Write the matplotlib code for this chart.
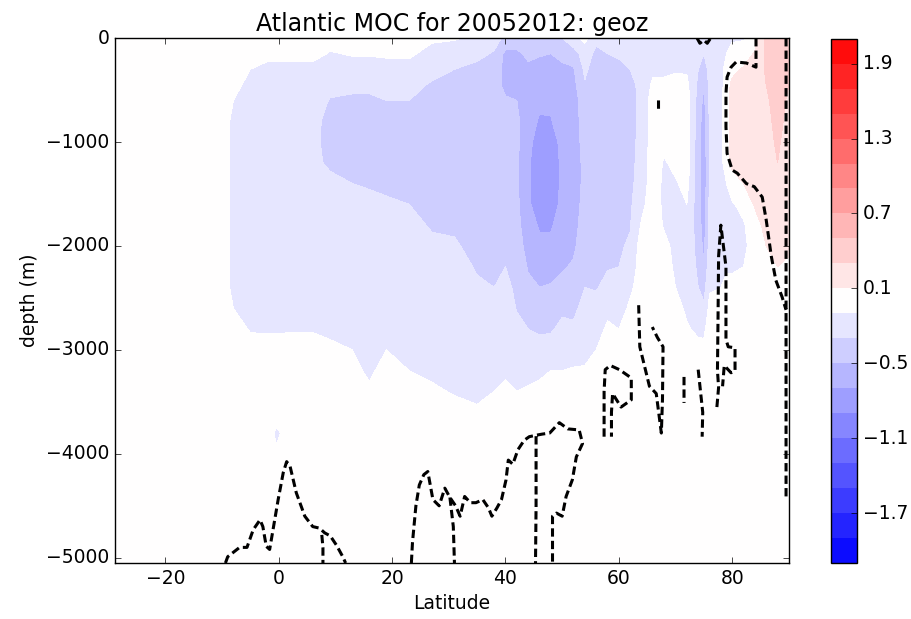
import numpy as np
import matplotlib
matplotlib.use("Agg")
import matplotlib.pyplot as plt

# grid nodes (latitude columns, depth rows)
lat_nodes = [-29, -10, -8, -5, -2, -0.4, 2, 6, 9, 13, 16, 19, 23, 27, 31, 35, 38, 40, 42,
             44, 46, 48, 50, 52, 54, 56, 58, 60, 62, 64, 66, 68, 70, 72, 74, 75, 76,
             78, 79, 80, 82, 84, 86, 88, 90]
depth_nodes = [0, -150, -300, -450, -600, -800, -1000, -1200, -1400, -1600, -1800,
               -2000, -2200, -2400, -2600, -2800, -3000, -3200, -3400, -3600, -3800,
               -4200, -5050]

# overturning (Sv) per latitude column, top to bottom
moc_columns = [
    [0, 0, 0, 0, 0, 0, 0, 0, 0, 0, 0, 0, 0, 0, 0, 0, 0, 0, 0, 0, 0, 0, 0],
    [0, 0, 0, 0, 0, 0, 0, 0, 0, 0, 0, 0, 0, 0, 0, 0, 0, 0, 0, 0, 0, 0, 0],
    [0, 0, 0, 0, -.10, -.15, -.15, -.15, -.15, -.15, -.15, -.15, -.15, -.15, -.10, 0, 0, 0, 0, 0, 0, 0, 0],
    [0, 0, -.10, -.20, -.20, -.20, -.20, -.20, -.20, -.20, -.20, -.20, -.20, -.20, -.20, -.12, 0, 0, 0, 0, 0, 0, 0],
    [0, 0, -.20, -.20, -.20, -.20, -.20, -.20, -.20, -.20, -.20, -.20, -.20, -.20, -.20, -.13, 0, 0, 0, 0, 0, 0, 0],
    [0, 0, -.20, -.20, -.20, -.20, -.20, -.20, -.20, -.20, -.20, -.20, -.20, -.20, -.20, -.13, 0, 0, 0, 0, -.14, 0, 0],
    [0, 0, -.20, -.20, -.20, -.20, -.20, -.20, -.20, -.20, -.20, -.20, -.20, -.20, -.20, -.12, 0, 0, 0, 0, 0, 0, 0],
    [0, 0, -.20, -.20, -.20, -.22, -.24, -.24, -.22, -.20, -.20, -.20, -.20, -.20, -.20, -.12, 0, 0, 0, 0, 0, 0, 0],
    [0, -.12, -.20, -.25, -.31, -.38, -.38, -.34, -.24, -.20, -.20, -.20, -.20, -.20, -.20, -.15, -.05, 0, 0, 0, 0, 0, 0],
    [0, -.08, -.20, -.26, -.33, -.40, -.40, -.38, -.30, -.24, -.20, -.20, -.20, -.20, -.20, -.20, -.10, -.03, 0, 0, 0, 0, 0],
    [0, -.08, -.20, -.26, -.33, -.40, -.40, -.40, -.32, -.25, -.20, -.20, -.20, -.20, -.20, -.20, -.20, -.15, -.05, 0, 0, 0, 0],
    [0, -.06, -.20, -.24, -.30, -.40, -.40, -.40, -.36, -.26, -.20, -.20, -.20, -.20, -.20, -.20, -.10, 0, 0, 0, 0, 0, 0],
    [0, -.05, -.20, -.24, -.30, -.40, -.42, -.42, -.40, -.30, -.24, -.20, -.20, -.20, -.20, -.20, -.20, -.10, 0, 0, 0, 0, 0],
    [-.05, -.20, -.24, -.32, -.40, -.42, -.44, -.44, -.42, -.40, -.32, -.26, -.22, -.20, -.20, -.20, -.20, -.15, -.06, 0, 0, 0, 0],
    [-.08, -.22, -.30, -.38, -.42, -.44, -.45, -.45, -.44, -.42, -.34, -.27, -.22, -.20, -.20, -.20, -.20, -.20, -.12, -.02, 0, 0, 0],
    [-.15, -.25, -.35, -.40, -.42, -.44, -.45, -.46, -.46, -.45, -.42, -.38, -.32, -.27, -.22, -.20, -.20, -.20, -.15, -.07, 0, 0, 0],
    [-.22, -.32, -.40, -.42, -.44, -.45, -.46, -.47, -.48, -.47, -.45, -.42, -.36, -.30, -.24, -.20, -.20, -.20, -.10, -.04, 0, 0, 0],
    [-.35, -.55, -.56, -.55, -.48, -.45, -.45, -.46, -.46, -.45, -.42, -.36, -.30, -.25, -.20, -.20, -.20, -.14, -.05, 0, 0, 0, 0],
    [-.35, -.55, -.56, -.55, -.50, -.46, -.46, -.47, -.47, -.46, -.44, -.40, -.36, -.34, -.31, -.25, -.20, -.16, -.10, -.04, 0, 0, 0],
    [-.30, -.45, -.55, -.58, -.60, -.62, -.64, -.66, -.66, -.65, -.62, -.58, -.52, -.45, -.38, -.30, -.24, -.15, -.08, 0, 0, 0, 0],
    [-.35, -.48, -.58, -.62, -.66, -.72, -.80, -.86, -.88, -.85, -.72, -.66, -.60, -.50, -.42, -.32, -.25, -.14, -.05, 0, 0, 0, 0],
    [-.35, -.50, -.60, -.64, -.67, -.71, -.80, -.85, -.85, -.82, -.72, -.66, -.58, -.48, -.40, -.32, -.22, -.10, 0, 0, 0, 0, 0],
    [-.30, -.45, -.54, -.58, -.60, -.62, -.64, -.65, -.65, -.64, -.62, -.58, -.52, -.44, -.33, -.26, -.20, -.10, 0, 0, 0, 0, 0],
    [-.15, -.40, -.52, -.56, -.58, -.58, -.58, -.60, -.60, -.58, -.56, -.53, -.48, -.40, -.34, -.27, -.20, -.08, 0, 0, 0, 0, 0],
    [-.05, -.20, -.26, -.32, -.40, -.42, -.44, -.45, -.45, -.44, -.42, -.40, -.36, -.30, -.24, -.20, -.16, -.08, 0, 0, 0, 0, 0],
    [-.25, -.35, -.40, -.42, -.42, -.42, -.42, -.42, -.42, -.42, -.40, -.38, -.35, -.31, -.25, -.20, -.10, 0, 0, 0, 0, 0, 0],
    [-.20, -.30, -.36, -.40, -.40, -.40, -.40, -.40, -.40, -.38, -.36, -.34, -.31, -.26, -.16, -.06, 0, 0, 0, 0, 0, 0, 0],
    [-.20, -.28, -.34, -.36, -.38, -.38, -.38, -.38, -.38, -.36, -.34, -.32, -.30, -.28, -.20, -.10, -.02, 0, 0, 0, 0, 0, 0],
    [-.18, -.25, -.30, -.34, -.36, -.36, -.36, -.36, -.35, -.33, -.31, -.28, -.22, -.14, -.06, 0, 0, 0, 0, 0, 0, 0, 0],
    [-.20, -.22, -.24, -.26, -.26, -.26, -.24, -.22, -.20, -.15, -.08, 0, 0, 0, 0, 0, 0, 0, 0, 0, 0, 0, 0],
    [-.20, -.20, -.15, -.06, 0, 0, 0, 0, 0, 0, 0, 0, 0, 0, 0, 0, 0, 0, 0, 0, 0, 0, 0],
    [-.20, -.20, -.14, -.06, 0, 0, -.05, -.12, -.14, -.14, -.12, -.05, 0, 0, 0, 0, 0, 0, 0, 0, 0, 0, 0],
    [-.20, -.18, -.12, -.04, 0, 0, 0, -.05, -.12, -.15, -.15, -.15, -.14, -.10, -.04, 0, 0, 0, 0, 0, 0, 0, 0],
    [-.20, -.18, -.12, -.06, 0, 0, 0, 0, -.04, -.10, -.14, -.15, -.15, -.15, -.13, -.08, 0, 0, 0, 0, 0, 0, 0],
    [-.15, -.25, -.30, -.34, -.38, -.40, -.42, -.42, -.42, -.42, -.40, -.38, -.34, -.30, -.22, -.14, -.04, 0, 0, 0, 0, 0, 0],
    [-.20, -.30, -.40, -.48, -.55, -.60, -.62, -.64, -.64, -.62, -.60, -.55, -.48, -.38, -.26, -.14, -.05, 0, 0, 0, 0, 0, 0],
    [-.20, -.22, -.24, -.25, -.26, -.28, -.28, -.28, -.28, -.26, -.24, -.22, -.18, -.12, -.05, 0, 0, 0, 0, 0, 0, 0, 0],
    [-.15, -.18, -.18, -.18, -.18, -.18, -.18, -.18, -.18, -.18, -.18, -.16, -.14, -.10, -.04, 0, 0, 0, 0, 0, 0, 0, 0],
    [-.12, -.10, 0, .03, .04, .05, .05, .04, -.10, -.15, -.15, -.15, -.12, -.06, 0, 0, 0, 0, 0, 0, 0, 0, 0],
    [-.12, -.05, .05, .14, .16, .16, .16, .14, .02, -.12, -.14, -.14, -.12, -.06, 0, 0, 0, 0, 0, 0, 0, 0, 0],
    [-.12, 0, .12, .17, .18, .18, .18, .17, .10, -.04, -.12, -.12, -.10, -.05, 0, 0, 0, 0, 0, 0, 0, 0, 0],
    [0, .12, .20, .22, .22, .22, .22, .22, .20, .12, .02, -.06, -.06, -.04, 0, 0, 0, 0, 0, 0, 0, 0, 0],
    [.36, .34, .32, .30, .28, .26, .25, .24, .22, .20, .16, .10, .05, 0, 0, 0, 0, 0, 0, 0, 0, 0, 0],
    [.42, .40, .38, .36, .35, .34, .32, .30, .27, .24, .20, .15, .10, .05, 0, 0, 0, 0, 0, 0, 0, 0, 0],
    [.36, .34, .32, .30, .28, .26, .24, .22, .20, .18, .16, .12, .08, .03, 0, 0, 0, 0, 0, 0, 0, 0, 0],
]

# zero isoline (dashed), pieces split by nan
nan = np.nan
zero_lat = [
    -9.4, -9.0, -6.9, -5.6, -4.5, -3.3, -2.8, -2.2, -1.6, -1.0, -0.1, 0.8, 1.4, 2.0, 3.1,
    4.6, 6.0, 7.2, 8.1, 9.1, 10.2, 11.3, 11.8, nan,
    7.6, 7.8, 7.8, nan,
    23.4, 23.6, 24.2, 24.8, 25.6, 26.3, 27.2, 28.3, 29.3, 30.2, 31.2, 32.0, 32.8, 33.8,
    34.8, 36.0, 37.0, 37.6, 38.5, 39.3, 40.1, 40.5, 41.3, 42.2, 43.3, 44.2, 45.5, 46.5,
    47.8, 49.5, 51.0, 53.0, 53.6, 52.5, 51.8, 50.7, 50.0, 49.0, 48.3, 48.3, nan,
    30.2, 30.8, 31.0, nan,
    45.4, 45.4, 45.3, nan,
    57.4, 57.4, 57.6, 58.5, 60.1, 62.2, 62.2, 60.4, 58.9, 58.7, 58.7, nan,
    63.5, 63.7, 64.5, 65.4, 66.6, 67.5, 67.7, 67.8, 66.8, 65.9, nan,
    71.5, 71.5, nan,
    74.0, 74.4, 74.8, 74.7, nan,
    77.3, 77.6, 77.4, 77.5, 77.6, 78.0, 78.9, 78.9, 79.3, 80.5, 80.5, 79.8, 78.6, 78.3, nan,
    84.2, 84.2, 82.5, 80.7, 79.8, 79.1, 78.9, 78.9, 79.1, 80.0, 80.9, 82.5, 83.9, 85.3,
    86.0, 86.9, 87.7, 88.8, 89.5, nan,
    89.5, 89.5, nan,
    67.0, 67.0, nan,
    73.8, 74.3, 75.0, 75.6, 76.2,
]
zero_depth = [
    -5050, -4990, -4900, -4900, -4730, -4635, -4700, -4890, -4920, -4730, -4440, -4180,
    -4075, -4120, -4375, -4600, -4700, -4715, -4760, -4790, -4880, -4990, -5050, nan,
    -4780, -4900, -5050, nan,
    -5050, -4850, -4500, -4300, -4200, -4170, -4440, -4500, -4330, -4420, -4500, -4600,
    -4410, -4470, -4470, -4440, -4520, -4600, -4520, -4440, -4250, -4060, -4100, -3960,
    -3870, -3835, -3820, -3810, -3800, -3700, -3760, -3770, -3900, -4030, -4250, -4410,
    -4600, -4570, -4600, -5050, nan,
    -4420, -4700, -5050, nan,
    -3830, -4500, -5050, nan,
    -3835, -3400, -3190, -3150, -3190, -3270, -3480, -3550, -3420, -3600, -3835, nan,
    -2570, -2970, -3150, -3350, -3420, -3800, -3480, -2970, -2880, -2780, nan,
    -3260, -3510, nan,
    -3190, -3400, -3600, -3835, nan,
    -3550, -3360, -3200, -2700, -2100, -1800, -2200, -2900, -2970, -2980, -3200, -3220,
    -3150, -3350, nan,
    0, -280, -240, -230, -280, -375, -530, -855, -1110, -1270, -1300, -1400, -1430, -1530,
    -1750, -2100, -2330, -2490, -2615, nan,
    0, -4410, nan,
    -600, -720, nan,
    0, -50, -20, -50, 0,
]

levels = np.linspace(-2.1, 2.1, 22)
cbar_ticks = [-1.7, -1.1, -0.5, 0.1, 0.7, 1.3, 1.9]

plt.style.use("classic")
plt.rcParams["font.size"] = 13.5
plt.rcParams["axes.titlesize"] = 17
plt.rcParams["lines.scale_dashes"] = False

fig = plt.figure(figsize=(9.12, 6.19), dpi=100)
ax = fig.add_axes([0.126, 0.0905, 0.739, 0.848])
cax = fig.add_axes([0.911, 0.0905, 0.029, 0.847])

moc = np.array(moc_columns).T
cf = ax.contourf(lat_nodes, depth_nodes, moc, levels=levels, cmap="bwr")
ax.plot(zero_lat, zero_depth, color="k", lw=2.2, linestyle=(0, (6, 3)))

ax.set_xlim(-28.9, 90)
ax.set_ylim(-5050, 0)
ax.set_xticks([-20, 0, 20, 40, 60, 80])
ax.set_yticks([-5000, -4000, -3000, -2000, -1000, 0])
ax.set_title("Atlantic MOC for 20052012: geoz")
ax.set_xlabel("Latitude")
ax.set_ylabel("depth (m)")

fig.colorbar(cf, cax=cax, ticks=cbar_ticks)

fig.savefig("out.png", dpi=100, facecolor="white")
